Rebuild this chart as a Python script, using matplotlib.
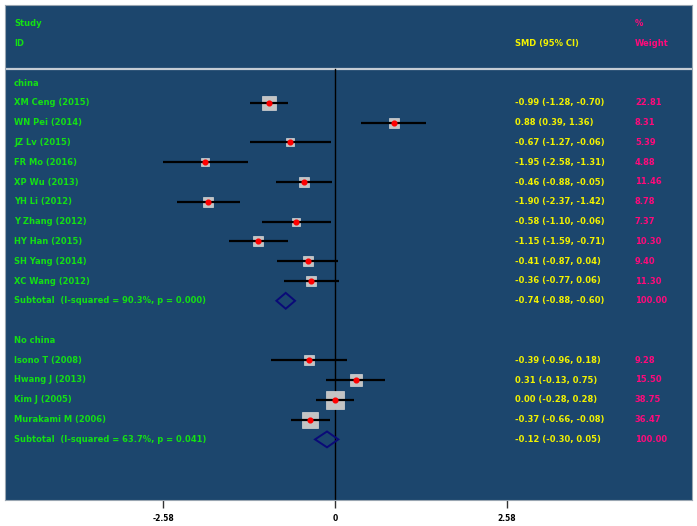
import matplotlib
matplotlib.use("Agg")
import matplotlib.pyplot as plt
import numpy as np

# ---- data ----
group1_label = "china"
group1_studies = ["XM Ceng (2015)", "WN Pei (2014)", "JZ Lv (2015)", "FR Mo (2016)",
                  "XP Wu (2013)", "YH Li (2012)", "Y Zhang (2012)", "HY Han (2015)",
                  "SH Yang (2014)", "XC Wang (2012)"]
group1_smd = [-0.99, 0.88, -0.67, -1.95, -0.46, -1.90, -0.58, -1.15, -0.41, -0.36]
group1_lo = [-1.28, 0.39, -1.27, -2.58, -0.88, -2.37, -1.10, -1.59, -0.87, -0.77]
group1_hi = [-0.70, 1.36, -0.06, -1.31, -0.05, -1.42, -0.06, -0.71, 0.04, 0.06]
group1_w = [22.81, 8.31, 5.39, 4.88, 11.46, 8.78, 7.37, 10.30, 9.40, 11.30]
group1_sub = (-0.74, -0.88, -0.60)
group1_het = "Subtotal  (I-squared = 90.3%, p = 0.000)"

group2_label = "No china"
group2_studies = ["Isono T (2008)", "Hwang J (2013)", "Kim J (2005)", "Murakami M (2006)"]
group2_smd = [-0.39, 0.31, 0.00, -0.37]
group2_lo = [-0.96, -0.13, -0.28, -0.66]
group2_hi = [0.18, 0.75, 0.28, -0.08]
group2_w = [9.28, 15.50, 38.75, 36.47]
group2_sub = (-0.12, -0.30, 0.05)
group2_het = "Subtotal  (I-squared = 63.7%, p = 0.041)"

tick_vals = [-2.58, 0, 2.58]
tick_labels = ["-2.58", "0", "2.58"]

# ---- style ----
BG = "#1c466d"
GREEN = "#14e014"
YELLOW = "#f2f200"
PINK = "#ff0a7a"
NAVY = "#0a0a78"
FS = 6.0

W, H = 697, 526
fig = plt.figure(figsize=(W / 100, H / 100), dpi=100)
fig.patch.set_facecolor("white")
ax = fig.add_axes([5 / W, 1 - 500 / H, 687 / W, 495 / H])
ax.set_facecolor(BG)

px_per_unit = 66.6
x0_px = 335
ax.set_xlim((5 - x0_px) / px_per_unit, (692 - x0_px) / px_per_unit)
row_px = 19.8
row0_px = 83
ax.set_ylim((500 - row0_px) / row_px, (5 - row0_px) / row_px)

for s in ax.spines.values():
    s.set_color("#9aa6b2")
    s.set_linewidth(0.8)

trans = ax.get_yaxis_transform()  # x in axes fraction, y in data
XL, XS, XW = 0.0131, 0.742, 0.917

def fmt(v):
    return f"{v:.2f}"

def ci_text(m, l, h):
    return f"{fmt(m)} ({fmt(l)}, {fmt(h)})"

kw = dict(fontsize=FS, fontweight="bold", va="center", transform=trans, family="DejaVu Sans")

# header
ax.text(XL, -3.03, "Study", color=GREEN, **kw)
ax.text(XL, -1.97, "ID", color=GREEN, **kw)
ax.text(XS, -1.97, "SMD (95% CI)", color=YELLOW, **kw)
ax.text(XW, -3.03, "%", color=PINK, **kw)
ax.text(XW, -1.97, "Weight", color=PINK, **kw)
ax.axhline(-0.7, color="#c4ccd4", lw=1.6)
ax.plot([0, 0], [-0.7, (500 - row0_px) / row_px], color="black", lw=1.0, zorder=2)

def box_size(w):
    return (2.0 + 2.45 * np.sqrt(w)) * 0.72

def draw_group(start, label, studies, smd, lo, hi, wts, sub, het):
    ax.text(XL, start, label, color=GREEN, **kw)
    for i, (st, m, l, h, w) in enumerate(zip(studies, smd, lo, hi, wts)):
        y = start + 1 + i
        ax.plot([m], [y], marker="s", ms=box_size(w), color="#c4c4c4", mec="#d6d6d6", mew=0.5, zorder=3)
        ax.plot([l, h], [y, y], color="black", lw=1.6, zorder=4, solid_capstyle="butt")
        ax.plot([m], [y], marker="o", ms=3.4, color="red", mec="red", zorder=5)
        ax.text(XL, y, st, color=GREEN, **kw)
        ax.text(XS, y, ci_text(m, l, h), color=YELLOW, **kw)
        ax.text(XW, y, fmt(w), color=PINK, **kw)
    ys = start + 1 + len(studies)
    m, l, h = sub
    ax.fill([l, m, h, m, l], [ys, ys - 0.4, ys, ys + 0.4, ys], facecolor="none",
            edgecolor=NAVY, lw=1.4, zorder=4)
    ax.text(XL, ys, het, color=GREEN, **kw)
    ax.text(XS, ys, ci_text(m, l, h), color=YELLOW, **kw)
    ax.text(XW, ys, "100.00", color=PINK, **kw)
    return ys

end1 = draw_group(0, group1_label, group1_studies, group1_smd, group1_lo, group1_hi,
                  group1_w, group1_sub, group1_het)
draw_group(end1 + 2, group2_label, group2_studies, group2_smd, group2_lo, group2_hi,
           group2_w, group2_sub, group2_het)

ax.set_yticks([])
ax.set_xticks(tick_vals)
ax.set_xticklabels(tick_labels, fontsize=5.5, fontweight="bold")
ax.tick_params(axis="x", direction="out", length=6, width=1, color="#333333", pad=4)

fig.savefig("out.png", dpi=100, facecolor="white")
